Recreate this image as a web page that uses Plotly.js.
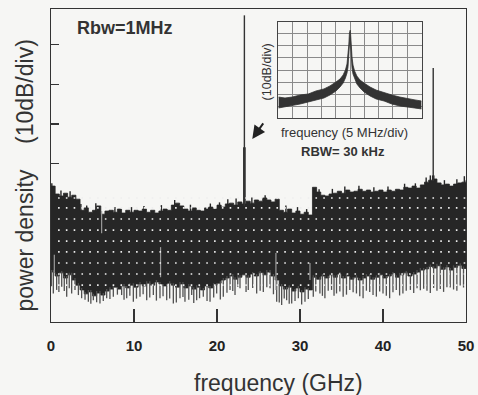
<!DOCTYPE html>
<html>
<head>
<meta charset="utf-8">
<script src="https://cdn.plot.ly/plotly-3.0.1.min.js"></script>
<style>
  html, body { margin: 0; padding: 0; background: #f6f6f4; }
  #chart { width: 478px; height: 395px; }
</style>
</head>
<body>
<div id="chart"></div>
<script>
// Broadband power spectrum, 0-50 GHz, RBW 1 MHz (relative dB, 10 dB/div)
const freqGHz = [0,0.5,1,1.5,2,2.5,3,3.5,4,4.5,5,5.5,6,6.5,7,7.5,8,8.5,9,9.5,10,10.5,11,11.5,12,12.5,13,13.5,14,14.5,15,15.5,16,16.5,17,17.5,18,18.5,19,19.5,20,20.5,21,21.5,22,22.5,23,23.5,24,24.5,25,25.5,26,26.5,27,27.5,28,28.5,29,29.5,30,30.5,31,31.5,32,32.5,33,33.5,34,34.5,35,35.5,36,36.5,37,37.5,38,38.5,39,39.5,40,40.5,41,41.5,42,42.5,43,43.5,44,44.5,45,45.5,46,46.5,47,47.5,48,48.5,49,49.5,50];

// upper edge of the noise band
const bandTop = [34.3,32.3,31.8,32.5,31.5,32.0,31.0,28.2,28.8,27.7,28.2,29.3,27.2,28.0,28.2,27.7,28.5,27.5,28.2,27.7,28.2,28.0,28.5,27.7,28.2,27.5,28.0,28.5,28.2,29.5,30.0,29.3,28.5,28.0,28.8,28.2,28.0,28.8,29.0,28.5,29.5,29.0,29.8,30.0,29.5,30.3,29.8,30.5,30.0,30.8,30.5,31.3,30.8,30.3,31.0,28.2,27.7,28.5,27.5,28.0,27.2,27.7,27.0,34.0,32.8,32.0,31.8,32.3,32.5,33.0,32.5,33.3,32.8,33.0,33.5,33.0,33.3,32.8,33.0,33.3,32.8,33.3,33.0,33.5,33.3,34.0,33.8,34.3,33.8,34.6,35.3,35.8,36.1,35.1,34.6,34.8,34.3,34.8,35.1,35.3,35.8];

// lower edge of the dense part of the noise band
const bandBottom = [12.6,11.6,12.4,11.1,11.9,10.6,9.3,8.1,7.1,7.6,6.6,7.3,6.8,7.8,8.3,8.8,8.3,9.1,8.6,9.3,8.8,9.6,9.1,9.8,9.3,10.1,9.6,9.1,9.8,9.3,8.8,9.6,8.6,9.1,8.3,8.8,8.1,9.1,8.6,9.3,9.8,10.6,11.1,11.6,10.8,11.3,11.9,11.3,12.1,11.6,12.4,11.9,12.6,11.6,10.6,9.1,8.3,8.8,7.8,8.6,7.6,8.3,8.1,11.3,10.8,11.6,11.1,11.9,11.3,12.1,11.1,11.6,10.8,11.3,10.6,11.1,11.6,10.8,11.3,11.9,11.1,11.6,12.1,11.3,11.9,12.4,11.6,12.1,12.6,13.1,13.4,14.0,13.6,14.2,13.3,13.9,13.1,13.8,14.3,13.5,13.9];

// downward noise excursions below the band
const dipGHz = [0.05,0.28,0.68,0.95,1.29,1.6,1.89,2.2,2.49,2.89,3.3,3.69,4.1,4.5,4.8,5.1,5.5,5.9,6.3,6.71,7.1,7.51,8.0,8.51,8.8,9.12,9.5,9.92,10.3,10.72,11.1,11.53,11.9,12.33,12.7,13.13,13.5,13.94,14.3,14.74,15.1,15.54,15.9,16.14,16.6,16.95,17.2,17.55,17.9,18.35,18.8,19.16,19.6,19.96,20.4,20.76,21.2,21.57,21.9,22.17,22.5,22.77,23.5,23.77,24.3,24.78,25.2,25.58,26.0,26.39,26.8,27.19,27.5,27.79,28.1,28.39,28.7,29.0,29.4,29.8,30.2,30.6,31.0,31.6,31.9,32.4,32.7,33.0,33.4,33.8,34.1,34.4,34.8,35.2,35.6,36.0,36.4,36.8,37.2,37.6,38.0,38.4,38.8,39.2,39.6,40.0,40.4,40.8,41.2,41.6,42.0,42.4,42.8,43.3,43.7,44.1,44.5,44.9,45.3,45.7,46.1,46.5,46.9,47.3,47.7,48.1,48.5,48.9,49.3,49.7];
const dipFloor = [9.0,7.2,8.1,7.6,8.9,7.8,6.4,8.5,7.2,8.1,6.8,6.0,5.6,5.1,4.6,5.5,5.0,4.7,5.3,6.0,5.8,6.4,6.9,6.8,5.6,6.0,6.6,5.1,5.9,6.4,7.0,5.5,6.2,6.8,5.4,6.0,6.5,5.5,5.9,4.7,4.9,6.0,6.3,5.1,5.6,6.8,4.8,5.5,6.0,6.4,5.3,5.1,6.2,7.2,5.7,6.4,7.4,8.1,7.8,6.8,8.9,8.5,7.6,8.1,8.6,7.2,7.9,7.6,8.8,8.5,7.0,5.1,4.9,4.3,5.9,5.5,4.6,4.7,5.3,6.0,4.4,5.1,5.8,6.4,7.7,7.2,6.6,6.0,7.9,8.1,6.6,7.2,7.7,6.4,6.9,8.1,7.5,7.2,6.5,6.0,7.9,7.6,6.8,6.4,7.7,7.2,6.6,6.0,7.5,8.1,6.7,7.2,7.9,8.1,7.3,8.5,8.0,8.4,7.9,7.3,8.6,7.9,8.3,7.6,8.8,8.7,8.2,7.9,9.2,8.7];

// small upward excursions on the band's upper edge
const crestGHz = [0.1,1.2,2.3,3.6,4.3,5.4,7.7,9.7,11.2,13.3,14.9,16.8,19.2,20.3,21.3,22.3,24.2,25.8,28.3,29.7,30.8,32.3,33.9,35.4,37.1,38.9,40.6,42.6,43.9,45.2,45.7,47.4,48.9,49.8];
const crestTop = [35.0,33.2,33.0,29.8,29.4,30.0,29.0,29.0,29.3,29.5,30.8,29.6,29.9,30.2,31.0,31.2,31.4,32.0,29.4,29.0,28.5,33.5,33.6,34.2,34.4,34.0,34.2,34.9,35.0,36.5,37.0,35.8,36.0,36.8];

// light gaps inside the band
const gapGHz = [0.4, 6.1, 13.2, 27.1, 31.2];
const gapHigh = [17.0, 28.0, 18.9, 17.4, 14.9];
const gapLow = [12.5, 22.4, 11.3, 8.1, 10.6];

// discrete spectral lines
const lineGHz = [23.3, 46.05];
const lineTop = [77.4, 64.1];
const lineShoulder = [44.1, 37.0];

// inset: single line, RBW 30 kHz, 5 MHz/div, 10 dB/div
const insetMHz = [-25,-22.7,-20.2,-17.4,-14.6,-11.9,-9.1,-7.0,-4.9,-3.5,-2.4,-1.6,-1.05,-0.7,-0.42,-0.21,-0.07,0.07,0.21,0.42,0.7,1.05,1.6,2.4,3.5,4.9,7.0,9.1,11.9,14.6,17.4,20.2,22.7,25];
const insetHigh = [17.6,16.8,17.6,19.3,20.1,22.6,24.3,26.8,30.1,32.5,35.9,40.0,45.0,51.6,60.7,70.6,73.1,73.1,69.8,59.9,50.8,44.1,39.2,35.0,31.7,29.2,25.9,23.4,21.0,19.3,17.6,16.0,15.2,14.3];
const insetLow = [8.5,9.4,11.0,11.8,13.5,15.2,16.8,19.3,22.6,25.9,29.2,33.4,37.5,42.5,49.9,60.7,66.5,66.5,59.9,49.1,41.7,36.7,32.5,28.4,25.1,21.8,18.5,16.0,14.3,11.8,10.2,9.4,8.5,7.7];

const xTicks = [0, 10, 20, 30, 40, 50];
const yTicks = [40, 50, 60, 70];

const INK = '#262626';
const STEP = freqGHz[1] - freqGHz[0];
const edgeAt = (arr, f) => arr[Math.min(arr.length - 1, Math.floor(f / STEP + 1e-9))];

function segments(xs, y0s, y1s) {
  const x = [], y = [];
  xs.forEach((f, i) => { x.push(f, f, null); y.push(y0s[i], y1s[i], null); });
  return { x, y };
}

const dips = segments(dipGHz, dipGHz.map(f => edgeAt(bandBottom, f) + 0.5), dipFloor);
const crests = segments(crestGHz, crestGHz.map(f => edgeAt(bandTop, f) - 0.3), crestTop);
const gaps = segments(gapGHz, gapHigh, gapLow);
const lines = segments(lineGHz, lineGHz.map(f => edgeAt(bandTop, f) - 0.5), lineTop);
const shoulders = segments(lineGHz, lineGHz.map(f => edgeAt(bandTop, f) - 0.5), lineShoulder);

const traces = [
  { x: freqGHz, y: bandBottom, type: 'scatter', mode: 'lines', line: { shape: 'hv', color: INK, width: 0.8 }, hoverinfo: 'skip' },
  { x: freqGHz, y: bandTop, type: 'scatter', mode: 'lines', line: { shape: 'hv', color: INK, width: 0.8 }, fill: 'tonexty', fillcolor: INK, hoverinfo: 'skip' },
  { x: dips.x, y: dips.y, type: 'scatter', mode: 'lines', line: { color: '#505050', width: 1.3 }, hoverinfo: 'skip' },
  { x: crests.x, y: crests.y, type: 'scatter', mode: 'lines', line: { color: INK, width: 1.4 }, hoverinfo: 'skip' },
  { x: gaps.x, y: gaps.y, type: 'scatter', mode: 'lines', line: { color: '#9a9a9a', width: 1.2 }, hoverinfo: 'skip' },
  { x: shoulders.x, y: shoulders.y, type: 'scatter', mode: 'lines', line: { color: INK, width: 2.6 }, hoverinfo: 'skip' },
  { x: lines.x, y: lines.y, type: 'scatter', mode: 'lines', line: { color: '#333', width: 1.4 }, hoverinfo: 'skip' },
  // inset band
  { x: insetMHz, y: insetLow, xaxis: 'x2', yaxis: 'y2', type: 'scatter', mode: 'lines', line: { color: '#333', width: 0.8 }, hoverinfo: 'skip' },
  { x: insetMHz, y: insetHigh, xaxis: 'x2', yaxis: 'y2', type: 'scatter', mode: 'lines', line: { color: '#333', width: 0.8 }, fill: 'tonexty', fillcolor: '#333', hoverinfo: 'skip' }
];

// white dotted graticule rows showing through the dark band
const graticuleRows = [31.3, 28.8, 26.0, 23.2, 20.4, 17.7, 14.9, 12.1, 9.3];
const shapes = graticuleRows.map(v => ({
  type: 'line', xref: 'x', yref: 'y', x0: 0.85, x1: 50, y0: v, y1: v,
  layer: 'above', line: { color: '#eeeeee', width: 1.6, dash: '1.6px,6.2px' }
}));

const FONT = 'Liberation Sans, Arial, Helvetica, sans-serif';

const layout = {
  width: 478, height: 395,
  margin: { l: 51, r: 12, t: 9, b: 73 },
  paper_bgcolor: '#f6f6f4',
  plot_bgcolor: '#f6f6f4',
  showlegend: false,
  font: { family: FONT, color: '#222' },
  xaxis: {
    range: [0, 50], tickvals: xTicks, ticks: 'inside', ticklen: 13, tickwidth: 1.6, tickcolor: '#333',
    showline: true, mirror: true, linecolor: '#333', linewidth: 1.4,
    showgrid: false, zeroline: false,
    tickfont: { family: FONT, size: 15, weight: 'bold', color: '#222' },
    ticklabelstandoff: 10
  },
  yaxis: {
    range: [0, 79], tickvals: yTicks, ticks: 'inside', ticklen: 8, tickwidth: 1.3, tickcolor: '#333',
    showticklabels: false, showline: true, mirror: true, linecolor: '#333', linewidth: 1.4,
    showgrid: false, zeroline: false
  },
  xaxis2: {
    domain: [0.548, 0.893], anchor: 'y2', range: [-25, 25], dtick: 5, tick0: -25,
    showticklabels: false, ticks: '', showgrid: true, gridcolor: '#8a8a8a', gridwidth: 1,
    showline: true, mirror: true, linecolor: '#444', linewidth: 1.2, zeroline: false
  },
  yaxis2: {
    domain: [0.651, 0.959], anchor: 'x2', range: [0, 80], dtick: 10,
    showticklabels: false, ticks: '', showgrid: true, gridcolor: '#8a8a8a', gridwidth: 1,
    showline: true, mirror: true, linecolor: '#444', linewidth: 1.2, zeroline: false
  },
  shapes: shapes,
  annotations: [
    { text: 'frequency (GHz)', xref: 'paper', yref: 'paper', x: 0.547, y: -0.195, xanchor: 'center', yanchor: 'middle',
      showarrow: false, font: { family: FONT, size: 23, color: '#333' } },
    { text: 'power density\u00a0\u00a0\u00a0\u00a0(10dB/div)', xref: 'paper', yref: 'paper', x: -0.0627, y: 0.468,
      xanchor: 'center', yanchor: 'middle', textangle: -90, showarrow: false, font: { family: FONT, size: 23, color: '#333' } },
    { text: 'Rbw=1MHz', xref: 'paper', yref: 'paper', x: 0.179, y: 0.939, xanchor: 'center', yanchor: 'middle',
      showarrow: false, font: { family: FONT, size: 18, weight: 'bold', color: '#333' } },
    { text: 'frequency (5 MHz/div)', xref: 'paper', yref: 'paper', x: 0.707, y: 0.605, xanchor: 'center', yanchor: 'middle',
      showarrow: false, font: { family: FONT, size: 13, color: '#333' } },
    { text: 'RBW= 30 kHz', xref: 'paper', yref: 'paper', x: 0.703, y: 0.544, xanchor: 'center', yanchor: 'middle',
      showarrow: false, font: { family: FONT, size: 13, weight: 'bold', color: '#333' } },
    { text: '(10dB/div)', xref: 'paper', yref: 'paper', x: 0.52, y: 0.8, xanchor: 'center', yanchor: 'middle', textangle: -90,
      showarrow: false, font: { family: FONT, size: 12.5, color: '#333' } },
    { text: '', xref: 'paper', yref: 'paper', x: 0.485, y: 0.585, showarrow: true, ax: 12, ay: -17,
      arrowhead: 2, arrowsize: 1.3, arrowwidth: 2, arrowcolor: '#222', standoff: 0 }
  ]
};

Plotly.newPlot('chart', traces, layout, { staticPlot: true, displayModeBar: false });
</script>
</body>
</html>
